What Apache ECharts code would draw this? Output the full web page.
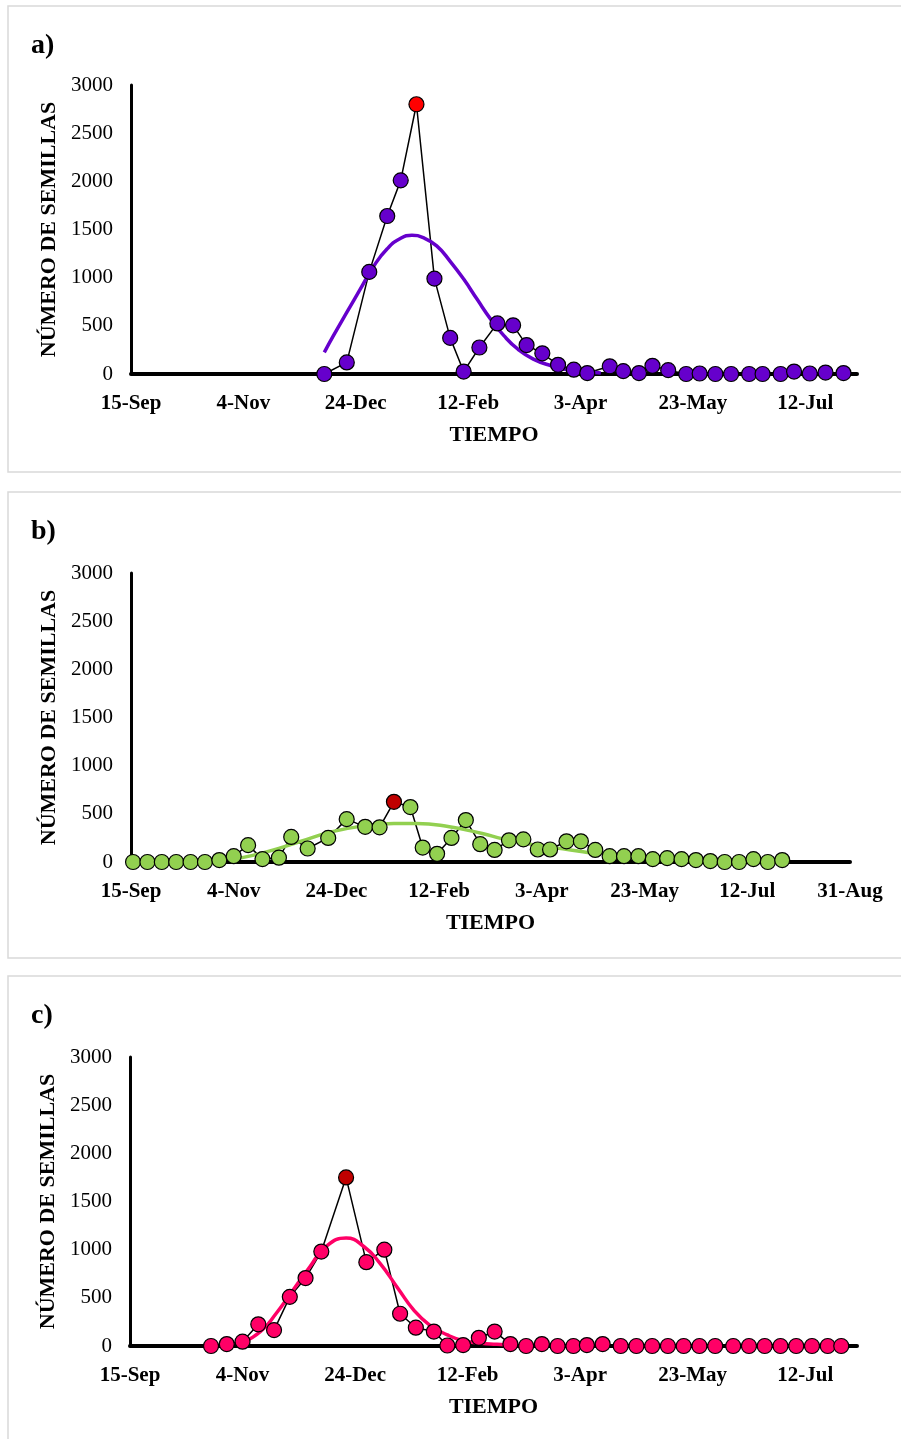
<!DOCTYPE html>
<html>
<head>
<meta charset="utf-8">
<script src="https://cdn.jsdelivr.net/npm/echarts@6/dist/echarts.min.js"></script>
<style>
  html, body { margin: 0; padding: 0; background: #fff; }
  #chart { width: 901px; height: 1439px; }
</style>
</head>
<body>
<div id="chart"></div>
<script>
// x is days counted from 15-Sep; one label every 50 days
var tickLabels = ['15-Sep', '4-Nov', '24-Dec', '12-Feb', '3-Apr', '23-May', '12-Jul', '31-Aug'];

// a)
var daysA  = [86, 96, 106, 114, 120, 127, 135, 142, 148, 155, 163, 170, 176, 183, 190, 197, 203, 213, 219, 226, 232, 239, 247, 253, 260, 267, 275, 281, 289, 295, 302, 309, 317];
var seedsA = [0, 120, 1060, 1640, 2010, 2800, 990, 375, 25, 275, 525, 505, 300, 215, 95, 45, 10, 80, 30, 10, 85, 40, 0, 5, 0, 0, 0, 0, 0, 25, 5, 15, 10];
var fitDaysA = [86, 90, 96, 102, 108, 114, 120, 125, 130, 136, 142, 148, 154, 160, 166, 172, 179, 187, 194, 202, 209];
var fitA     = [225, 395, 640, 880, 1120, 1300, 1410, 1440, 1415, 1330, 1170, 985, 775, 570, 395, 260, 155, 85, 45, 25, 10];

// b)
var daysB  = [1, 8, 15, 22, 29, 36, 43, 50, 57, 64, 72, 78, 86, 96, 105, 114, 121, 128, 136, 142, 149, 156, 163, 170, 177, 184, 191, 198, 204, 212, 219, 226, 233, 240, 247, 254, 261, 268, 275, 282, 289, 296, 303, 310, 317];
var seedsB = [0, 0, 0, 0, 0, 0, 20, 60, 175, 30, 45, 260, 140, 250, 445, 365, 360, 625, 570, 150, 85, 250, 435, 185, 125, 225, 235, 130, 130, 215, 215, 125, 60, 60, 60, 30, 40, 30, 20, 10, 0, 0, 30, 0, 20];
var fitDaysB = [53, 66, 82, 98, 115, 128, 139, 155, 171, 181, 197, 214, 226];
var fitB     = [40, 105, 210, 315, 380, 400, 400, 365, 295, 240, 175, 125, 85];

// c)
var daysC  = [36, 43, 50, 57, 64, 71, 78, 85, 96, 105, 113, 120, 127, 135, 141, 148, 155, 162, 169, 176, 183, 190, 197, 203, 210, 218, 225, 232, 239, 246, 253, 260, 268, 275, 282, 289, 296, 303, 310, 316];
var seedsC = [0, 20, 45, 225, 165, 510, 705, 980, 1750, 870, 1000, 335, 190, 150, 5, 10, 85, 150, 20, 0, 20, 0, 0, 10, 20, 0, 0, 0, 0, 0, 0, 0, 0, 0, 0, 0, 0, 0, 0, 0];
var fitDaysC = [50, 58, 65, 72, 80, 87, 96, 104, 111, 119, 126, 133, 141, 148, 156, 163, 170];
var fitC     = [35, 150, 340, 565, 825, 1030, 1120, 1030, 860, 600, 375, 220, 115, 55, 28, 18, 7];

var FONT = 'Liberation Serif';

var panels = [
  { letter: 'a)', box: 6,   top: 85,   left: 131, right: 44, xMax: 323, days: daysA, seeds: seedsA, fitDays: fitDaysA, fit: fitA, color: '#6600CC', peak: '#FF0000', line: '#6600CC' },
  { letter: 'b)', box: 492, top: 573,  left: 131, right: 51, xMax: 350, days: daysB, seeds: seedsB, fitDays: fitDaysB, fit: fitB, color: '#92D050', peak: '#C00000', line: '#92D050' },
  { letter: 'c)', box: 976, top: 1057, left: 130, right: 44, xMax: 323, days: daysC, seeds: seedsC, fitDays: fitDaysC, fit: fitC, color: '#FF0066', peak: '#C00000', line: '#FF0066' }
];

function pairs(xs, ys) {
  return xs.map(function (x, i) { return [x, ys[i]]; });
}

var grid = [], xAxis = [], yAxis = [], series = [], graphic = [];

panels.forEach(function (p, i) {
  grid.push({ left: p.left, right: p.right, top: p.top, height: 289 });

  xAxis.push({
    gridIndex: i, type: 'value', min: 0, max: p.xMax, interval: 50,
    name: 'TIEMPO', nameLocation: 'middle', nameGap: 50,
    nameTextStyle: { fontFamily: FONT, fontWeight: 'bold', fontSize: 22, color: '#000' },
    axisLine: { onZero: false, lineStyle: { color: '#000', width: 4 } },
    axisTick: { show: false },
    splitLine: { show: false },
    axisLabel: {
      margin: 19, showMaxLabel: p.xMax % 50 === 0,
      fontFamily: FONT, fontWeight: 'bold', fontSize: 21, color: '#000',
      formatter: function (v) { return v % 50 === 0 ? tickLabels[v / 50] : ''; }
    }
  });

  yAxis.push({
    gridIndex: i, type: 'value', min: 0, max: 3000, interval: 500,
    name: 'NÚMERO DE SEMILLAS', nameLocation: 'middle', nameGap: 67,
    nameTextStyle: { fontFamily: FONT, fontWeight: 'bold', fontSize: 22, color: '#000' },
    axisLine: { show: true, lineStyle: { color: '#000', width: 3 } },
    axisTick: { show: false },
    splitLine: { show: false },
    axisLabel: {
      margin: 18, fontFamily: FONT, fontSize: 21, color: '#000',
      formatter: function (v) { return String(v); }
    }
  });

  var maxVal = Math.max.apply(null, p.seeds);

  // black connecting line
  series.push({
    type: 'line', xAxisIndex: i, yAxisIndex: i, z: 2,
    data: pairs(p.days, p.seeds), showSymbol: false, silent: true,
    lineStyle: { color: '#000', width: 1.5 }
  });
  // fitted curve
  series.push({
    type: 'line', xAxisIndex: i, yAxisIndex: i, z: 3, smooth: true,
    data: pairs(p.fitDays, p.fit), showSymbol: false, silent: true,
    lineStyle: { color: p.line, width: 3.5 }
  });
  // markers
  series.push({
    type: 'scatter', xAxisIndex: i, yAxisIndex: i, z: 4, symbolSize: 15,
    data: p.days.map(function (d, k) {
      var item = { value: [d, p.seeds[k]] };
      if (p.seeds[k] === maxVal) item.itemStyle = { color: p.peak };
      return item;
    }),
    itemStyle: { color: p.color, borderColor: '#000', borderWidth: 1.2, opacity: 1 }
  });

  graphic.push({
    type: 'rect', silent: true,
    shape: { x: 8, y: p.box, width: 910, height: 466 },
    style: { fill: 'none', stroke: '#d9d9d9', lineWidth: 1.5 }
  });
  graphic.push({
    type: 'text', left: 31, top: p.box + 26,
    style: { text: p.letter, font: 'bold 28px "Liberation Serif"', fill: '#000' }
  });
});

var chart = echarts.init(document.getElementById('chart'));
chart.setOption({
  animation: false,
  backgroundColor: '#fff',
  grid: grid,
  xAxis: xAxis,
  yAxis: yAxis,
  series: series,
  graphic: graphic
});
</script>
</body>
</html>
